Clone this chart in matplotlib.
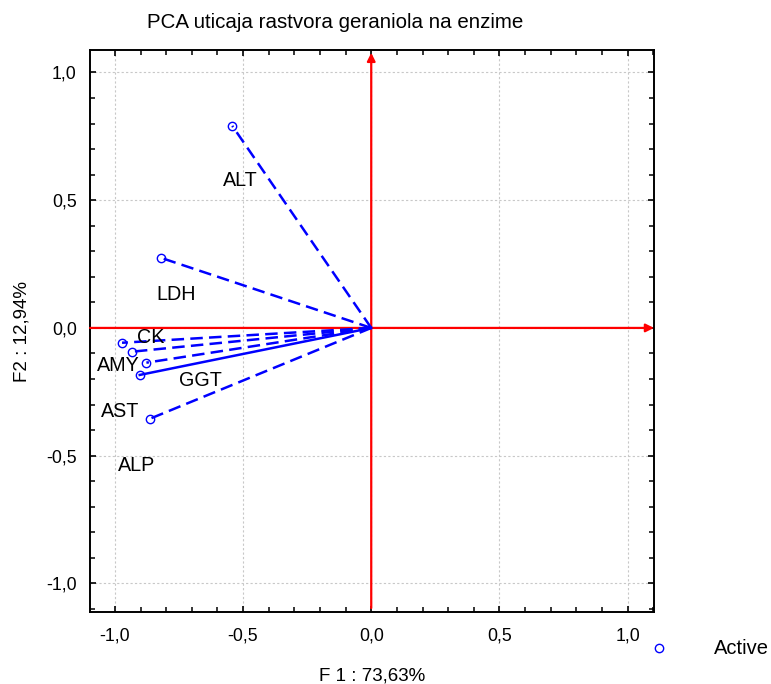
import matplotlib
matplotlib.use("Agg")
import matplotlib.pyplot as plt
from matplotlib.ticker import MultipleLocator, FuncFormatter

# Factor loadings of the enzyme variables on F1 / F2
variables = ["ALT", "LDH", "CK", "AMY", "GGT", "AST", "ALP"]
f1_loadings = [-0.542, -0.819, -0.972, -0.933, -0.877, -0.903, -0.862]
f2_loadings = [0.791, 0.274, -0.058, -0.093, -0.136, -0.184, -0.355]
line_styles = ["dashed", "dashed", "dashed", "dashed", "dashed", "solid", "dashed"]

# Where each variable name is written (data coordinates)
label_x = [-0.511, -0.760, -0.862, -0.986, -0.667, -0.979, -0.916]
label_y = [0.579, 0.129, -0.039, -0.149, -0.207, -0.329, -0.540]

title = "PCA uticaja rastvora geraniola na enzime"
x_label = "F 1 : 73,63%"
y_label = "F2 : 12,94%"
legend_label = "Active"

plt.rcParams["font.family"] = ["Liberation Sans", "DejaVu Sans"]

fig = plt.figure(figsize=(7.71, 6.84), dpi=100)
ax = fig.add_axes([90 / 771, 1 - 612 / 684, 564 / 771, 562 / 684])

ax.set_xlim(-1.097, 1.103)
ax.set_ylim(-1.112, 1.088)

comma = FuncFormatter(lambda v, p: f"{v:.1f}".replace(".", ","))
for axis in (ax.xaxis, ax.yaxis):
    axis.set_major_locator(MultipleLocator(0.5))
    axis.set_minor_locator(MultipleLocator(0.1))
    axis.set_major_formatter(comma)
ax.tick_params(which="both", direction="in", top=True, right=True, color="black")
ax.tick_params(which="major", length=4, width=1.2, labelsize=12.8)
ax.tick_params(axis="x", which="major", pad=11)
ax.tick_params(axis="y", which="major", pad=9.5)
ax.tick_params(which="minor", length=3.5, width=1.1)
ax.grid(True, which="major", color="#c8c8c8", linestyle=(0, (2, 2)), linewidth=0.8)
for s in ax.spines.values():
    s.set_linewidth(1.4)

# Red axes through the origin
ax.annotate("", xy=(1.0, 0.0), xycoords=("axes fraction", "data"),
            xytext=(0.0, 0.0), textcoords=("axes fraction", "data"),
            arrowprops=dict(arrowstyle="-|>", color="red", lw=1.6,
                            mutation_scale=12, shrinkA=0, shrinkB=0), zorder=3)
ax.annotate("", xy=(0.0, 0.995), xycoords=("data", "axes fraction"),
            xytext=(0.0, 0.007), textcoords=("data", "axes fraction"),
            arrowprops=dict(arrowstyle="-|>", color="red", lw=1.6,
                            mutation_scale=12, shrinkA=0, shrinkB=0), zorder=3)

# Loading vectors
for x, y, ls in zip(f1_loadings, f2_loadings, line_styles):
    style = (0, (5, 2.5)) if ls == "dashed" else "solid"
    ax.plot([0, x], [0, y], color="#0000ff", lw=1.8, linestyle=style, zorder=4)
ax.plot(f1_loadings, f2_loadings, linestyle="none", marker="o", markersize=6,
        markerfacecolor="none", markeredgecolor="#0000ff", markeredgewidth=1.0,
        zorder=5)

for name, lx, ly in zip(variables, label_x, label_y):
    ax.text(lx, ly, name, ha="center", va="center", fontsize=14.2, color="black", zorder=6)

ax.set_xlabel(x_label, fontsize=13.5, labelpad=17)
ax.set_ylabel(y_label, fontsize=13.5, labelpad=11)

fig.text(335 / 771, 1 - 22 / 684, title, ha="center", va="center", fontsize=14.8)

# Legend entry
fig.lines.append(plt.Line2D([659 / 771], [1 - 648 / 684], transform=fig.transFigure,
                            linestyle="none", marker="o", markersize=6,
                            markerfacecolor="none", markeredgecolor="#0000ff",
                            markeredgewidth=1.0))
fig.text(714 / 771, 1 - 648 / 684, legend_label, ha="left", va="center", fontsize=14.5)

fig.savefig("out.png", dpi=100)
